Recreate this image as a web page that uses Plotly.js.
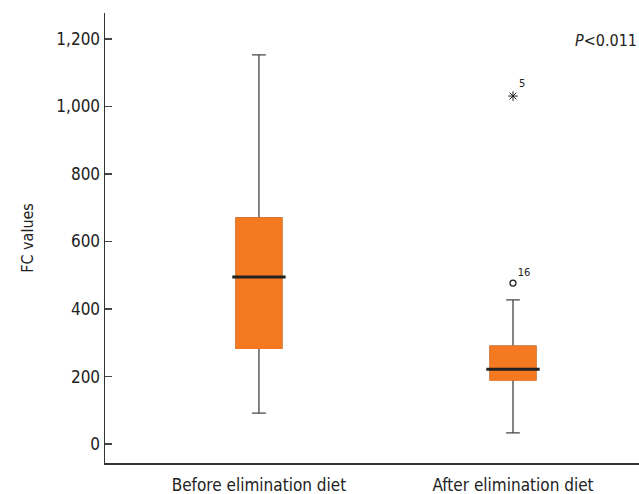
<!DOCTYPE html>
<html>
<head>
<meta charset="utf-8">
<script src="https://cdn.plot.ly/plotly-3.0.1.min.js"></script>
<style>html,body{margin:0;padding:0;background:#fff;}#chart{width:639px;height:494px;}</style>
</head>
<body>
<div id="chart"></div>
<script>
const categories = ["Before elimination diet", "After elimination diet"];
const q1 = [284, 190];
const median = [495, 222];
const q3 = [670, 290];
const lowerWhisker = [92, 33];
const upperWhisker = [1153, 427];
const outlierCircle = {cat: "After elimination diet", value: 477, label: "16"};
const outlierStar = {cat: "After elimination diet", value: 1031, label: "5"};
const yTicks = [0, 200, 400, 600, 800, 1000, 1200];
const yTickText = ["0", "200", "400", "600", "800", "1,000", "1,200"];

const FONT = "'Liberation Sans Narrow', 'DejaVu Sans Condensed', 'Roboto Condensed', Arial, sans-serif";
const ORANGE = "#f47920";

const whiskerTrace = {
  type: "box", x: categories, q1: q1, median: median, q3: q3,
  lowerfence: lowerWhisker, upperfence: upperWhisker,
  width: 0.18, whiskerwidth: 0.3,
  fillcolor: ORANGE, line: {color: "#444", width: 1.3},
  boxpoints: false, hoverinfo: "skip", showlegend: false
};
const fillTrace = {
  type: "box", x: categories, q1: q1, median: median, q3: q3,
  lowerfence: q1, upperfence: q3,
  width: 0.18, whiskerwidth: 0,
  fillcolor: ORANGE, line: {color: ORANGE, width: 1.5},
  boxpoints: false, hoverinfo: "skip", showlegend: false
};
const circleTrace = {
  type: "scatter", mode: "markers+text", x: [outlierCircle.cat], y: [outlierCircle.value],
  text: [outlierCircle.label], textposition: "top right",
  textfont: {family: FONT, size: 11, color: "#222"},
  marker: {symbol: "circle-open", size: 6, color: "#222", line: {width: 1.3}},
  showlegend: false, hoverinfo: "skip"
};
const starTrace = {
  type: "scatter", mode: "markers+text", x: [outlierStar.cat], y: [outlierStar.value],
  text: [outlierStar.label], textposition: "top right",
  textfont: {family: FONT, size: 11, color: "#222"},
  marker: {symbol: "asterisk-open", size: 8, color: "#222", line: {width: 1, color: "#222"}},
  showlegend: false, hoverinfo: "skip"
};

const shapes = median.map((m, i) => ({
  type: "line", xref: "x", yref: "y", x0: i - 0.105, x1: i + 0.105, y0: m, y1: m,
  line: {color: "#222", width: 3}
}));

const layout = {
  width: 639, height: 494,
  margin: {l: 105, r: 0, t: 13, b: 31},
  paper_bgcolor: "#fff", plot_bgcolor: "#fff",
  font: {family: FONT, color: "#222", size: 17},
  showlegend: false,
  boxmode: "overlay",
  xaxis: {
    type: "category", range: [-0.606, 1.496],
    showline: true, linecolor: "#333", linewidth: 1.5,
    ticks: "outside", ticklen: 6, tickcolor: "rgba(0,0,0,0)",
    showgrid: false, zeroline: false, fixedrange: true,
    tickfont: {family: FONT, size: 17, color: "#222"}
  },
  yaxis: {
    range: [-56, 1277],
    tickvals: yTicks, ticktext: yTickText,
    ticks: "inside", ticklen: 7, tickcolor: "#444", tickwidth: 1.3,
    showline: true, linecolor: "#333", linewidth: 1.5,
    showgrid: false, zeroline: false,
    tickfont: {family: FONT, size: 17, color: "#222"},
    title: {text: "FC values", font: {family: FONT, size: 16, color: "#222"}, standoff: 18}
  },
  shapes: shapes,
  annotations: [{
    xref: "paper", yref: "paper", x: 1, y: 0.938, xanchor: "right", yanchor: "middle",
    text: "<i>P</i><0.011", showarrow: false,
    font: {family: FONT, size: 16, color: "#222"}
  }]
};

Plotly.newPlot("chart", [whiskerTrace, fillTrace, circleTrace, starTrace], layout, {displayModeBar: false, staticPlot: true});
</script>
</body>
</html>
